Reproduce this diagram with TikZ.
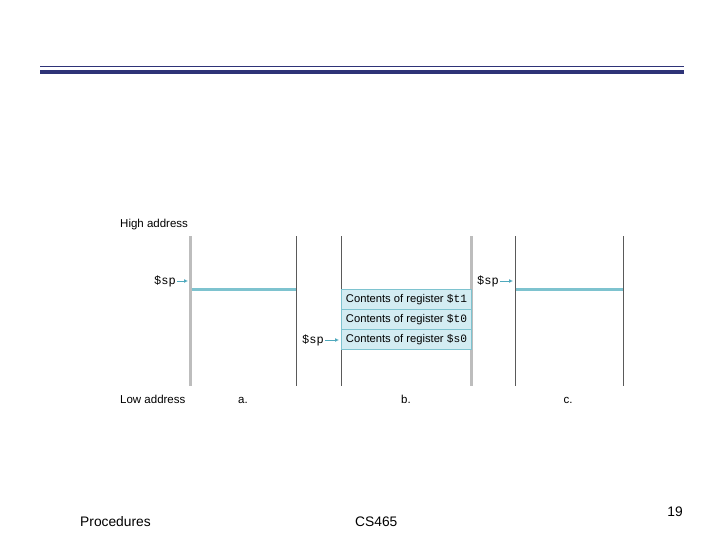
\documentclass[tikz,border=0pt]{standalone}
\usepackage{fontspec}
\setmainfont{Liberation Sans}
\setmonofont{Liberation Mono}
\definecolor{navy}{HTML}{2E3377}
\definecolor{spcyan}{HTML}{7EC3CF}
\definecolor{arrcyan}{HTML}{4FA9BD}
\definecolor{boxfill}{HTML}{D3ECF2}
\definecolor{lgray}{HTML}{BDBDBD}
\definecolor{dgray}{HTML}{5A5A5A}
\tikzset{
  thickwall/.style={draw=lgray,line width=3pt},
  thinwall/.style={draw=dgray,line width=1pt},
  splevel/.style={draw=spcyan,line width=3pt},
  lbl/.style={inner sep=0pt,font=\fontsize{11.5}{13}\selectfont},
  reglbl/.style={inner sep=0pt,font=\fontsize{12}{13}\selectfont\ttfamily},
  regbox/.style={draw=spcyan,line width=1pt,fill=boxfill,minimum width=130pt,minimum height=20pt,inner sep=0pt,font=\fontsize{11.2}{12}\selectfont},
  sparrow/.style={draw=arrcyan,line width=0.8pt,-{Latex[length=4pt,width=4pt]}},
  foot/.style={inner sep=0pt,font=\fontsize{13.8}{15}\selectfont}
}
\usetikzlibrary{arrows.meta}
\begin{document}
\begin{tikzpicture}[x=1pt,y=-1pt]
\useasboundingbox (0,0) rectangle (720,540);
% header rules
\draw[navy,line width=1pt] (40,66.5) -- (684,66.5);
\draw[navy,line width=3.5pt] (40,72) -- (684,72);
% walls
\coordinate (aLt) at (190,236); \coordinate (aLb) at (190,386);
\coordinate (aRt) at (296,236); \coordinate (aRb) at (296,386);
\coordinate (bLt) at (341,236); \coordinate (bLb) at (341,386);
\coordinate (bRt) at (471,236); \coordinate (bRb) at (471,386);
\coordinate (cLt) at (515,236); \coordinate (cLb) at (515,386);
\coordinate (cRt) at (623,236); \coordinate (cRb) at (623,386);
\draw[thickwall] (aLt) -- (aLb);
\draw[thinwall] (aRt) -- (aRb);
\draw[thinwall] (bLt) -- (bLb);
\draw[thickwall] (bRt) -- (bRb);
\draw[thinwall] (cLt) -- (cLb);
\draw[thinwall] (cRt) -- (cRb);
% sp levels a and c
\coordinate (aS1) at (191.5,289); \coordinate (aS2) at (296,289);
\draw[splevel] (aS1) -- (aS2);
\coordinate (cS1) at (515.5,289); \coordinate (cS2) at (623,289);
\draw[splevel] (cS1) -- (cS2);
% register boxes
\node[regbox,anchor=north west] (t1) at (341,289) {Contents of register \texttt{\$t1}};
\node[regbox,anchor=north west] (t0) at (341,309) {Contents of register \texttt{\$t0}};
\node[regbox,anchor=north west] (s0) at (341,329) {Contents of register \texttt{\$s0}};
% sp pointers
\node[reglbl,anchor=east] (spa) at (176,281) {\$sp};
\coordinate (spaT) at (188,281);
\draw[sparrow] (spa.east) ++(1,0) -- (spaT);
\node[reglbl,anchor=east] (spb) at (324,340) {\$sp};
\coordinate (spbT) at (339,340);
\draw[sparrow] (spb.east) ++(1,0) -- (spbT);
\node[reglbl,anchor=east] (spc) at (499,281) {\$sp};
\coordinate (spcT) at (513,281);
\draw[sparrow] (spc.east) ++(1,0) -- (spcT);
% labels
\node[lbl,anchor=base west] (high) at (120,228) {High address};
\node[lbl,anchor=base west] (low) at (120,403) {Low address};
\node[lbl,anchor=base] (la) at (243,403) {a.};
\node[lbl,anchor=base] (lb) at (406,403) {b.};
\node[lbl,anchor=base] (lc) at (568,403) {c.};
% footer
\node[foot,anchor=base west] (proc) at (80,526) {Procedures};
\node[foot,anchor=base west] (cs) at (355,526) {CS465};
\node[foot,anchor=base] (pg) at (675,516) {19};
\end{tikzpicture}
\end{document}
